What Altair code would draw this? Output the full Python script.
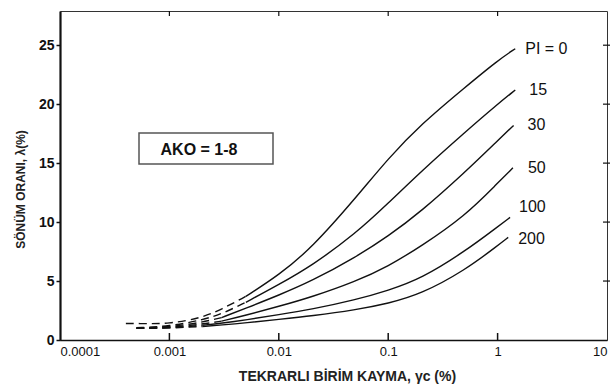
import altair as alt
import pandas as pd

# Cyclic shear strain (%) and damping ratio (%) for each plasticity index
pi_levels = ["0", "15", "30", "50", "100", "200"]

strain_pi0 = [0.0004, 0.0005, 0.001, 0.002, 0.003, 0.005, 0.01, 0.02, 0.05, 0.1, 0.2, 0.5, 1.0, 1.45]
damp_pi0 = [1.4, 1.4, 1.35, 1.9, 2.6, 3.7, 5.5, 7.8, 12.0, 15.4, 18.3, 21.4, 23.7, 24.7]

strain_pi15 = [0.0005, 0.001, 0.002, 0.003, 0.005, 0.01, 0.02, 0.05, 0.1, 0.2, 0.5, 1.0, 1.45]
damp_pi15 = [1.05, 1.15, 1.7, 2.2, 3.2, 4.7, 6.3, 9.0, 11.6, 14.3, 17.6, 20.0, 21.2]

strain_pi30 = [0.0005, 0.001, 0.002, 0.003, 0.005, 0.01, 0.02, 0.05, 0.1, 0.2, 0.5, 1.0, 1.4]
damp_pi30 = [1.0, 1.1, 1.5, 1.9, 2.7, 3.8, 5.0, 7.0, 8.8, 10.9, 14.2, 16.9, 18.2]

strain_pi50 = [0.0005, 0.001, 0.002, 0.003, 0.005, 0.01, 0.02, 0.05, 0.1, 0.2, 0.5, 1.0, 1.38]
damp_pi50 = [1.0, 1.05, 1.35, 1.6, 2.1, 2.85, 3.65, 4.95, 6.25, 7.95, 10.5, 13.3, 14.6]

strain_pi100 = [0.0005, 0.001, 0.002, 0.003, 0.005, 0.01, 0.02, 0.05, 0.1, 0.2, 0.5, 1.0, 1.3]
damp_pi100 = [1.0, 1.0, 1.25, 1.42, 1.7, 2.15, 2.6, 3.4, 4.2, 5.2, 7.5, 9.6, 10.4]

strain_pi200 = [0.0005, 0.001, 0.002, 0.003, 0.005, 0.01, 0.02, 0.05, 0.1, 0.2, 0.5, 1.0, 1.25]
damp_pi200 = [1.0, 1.0, 1.15, 1.27, 1.45, 1.75, 2.05, 2.55, 3.1, 3.9, 5.9, 8.0, 8.7]

# strain at which each curve turns from dashed (extrapolated) to solid
solid_from = [0.005, 0.005, 0.003, 0.003, 0.002, 0.002]

curve_labels = ["PI = 0", "15", "30", "50", "100", "200"]

y_ticks = [0, 5, 10, 15, 20, 25]
x_ticks = [0.0001, 0.001, 0.01, 0.1, 1, 10]
decade_marks = [0.001, 0.01, 0.1, 1]

curves = [
    (strain_pi0, damp_pi0),
    (strain_pi15, damp_pi15),
    (strain_pi30, damp_pi30),
    (strain_pi50, damp_pi50),
    (strain_pi100, damp_pi100),
    (strain_pi200, damp_pi200),
]

dashed_rows, solid_rows, end_rows = [], [], []
for pi, (xs, ys), cut in zip(pi_levels, curves, solid_from):
    for xv, yv in zip(xs, ys):
        row = {"pi": pi, "strain": xv, "damping": yv}
        if xv <= cut:
            dashed_rows.append(row)
        if xv >= cut:
            solid_rows.append(row)
    end_rows.append({"pi": pi, "strain": xs[-1], "damping": ys[-1]})

dashed_df = pd.DataFrame(dashed_rows)
solid_df = pd.DataFrame(solid_rows)
end_df = pd.DataFrame(end_rows)
end_df["label"] = curve_labels

W, H = 547, 329
INK = "#111111"

x_scale = alt.Scale(type="log", domain=[0.0001, 10])
y_scale = alt.Scale(domain=[0, 27.9], nice=False)

x_enc = alt.X(
    "strain:Q",
    scale=x_scale,
    axis=alt.Axis(
        values=x_ticks,
        format="~g",
        ticks=False,
        grid=False,
        labelFlush=True,
        labelPadding=5,
        labelFontSize=13,
        labelColor=INK,
        domainColor=INK,
        domainWidth=1.6,
        title="TEKRARLI BİRİM KAYMA,  γc (%)",
        titleFontSize=14,
        titleFontWeight="bold",
        titleColor="#222222",
        titleX=287,
        titleY=36,
        titleBaseline="middle",
    ),
)
y_enc = alt.Y(
    "damping:Q",
    scale=y_scale,
    axis=alt.Axis(
        values=y_ticks,
        grid=False,
        tickSize=4,
        tickWidth=1.5,
        tickColor=INK,
        labelPadding=2,
        labelFontSize=14,
        labelFontWeight="bold",
        labelColor=INK,
        domainColor=INK,
        domainWidth=2.2,
        title="SÖNÜM ORANI, λ(%)",
        titleFontSize=12,
        titleFontWeight="bold",
        titleColor="#222222",
        titleX=-40,
        titleY=178,
        titleAngle=-90,
        titleAlign="center",
        titleBaseline="middle",
    ),
)

dashed = alt.Chart(dashed_df).mark_line(
    color=INK, strokeWidth=1.4, strokeDash=[8, 5], interpolate="basis"
).encode(x=x_enc, y=y_enc, detail="pi:N")

solid = alt.Chart(solid_df).mark_line(
    color=INK, strokeWidth=1.4, interpolate="basis"
).encode(x="strain:Q", y="damping:Q", detail="pi:N")

# curve labels next to the end of each curve
label_offsets = {"0": (10, 0), "15": (14, 0), "30": (14, 0), "50": (15, 0), "100": (9, -10), "200": (10, 2)}
label_layers = []
for pi, (ddx, ddy) in label_offsets.items():
    label_layers.append(
        alt.Chart(end_df)
        .transform_filter(alt.datum.pi == pi)
        .mark_text(align="left", baseline="middle", dx=ddx, dy=ddy, fontSize=16, color=INK)
        .encode(x="strain:Q", y="damping:Q", text="label:N")
    )

# annotation box
box = alt.Chart(pd.DataFrame({"k": [0]})).mark_rect(
    fill="white", stroke="#555555", strokeWidth=1.5
).encode(x=alt.value(79), x2=alt.value(213), y=alt.value(122), y2=alt.value(153))
box_text = alt.Chart(pd.DataFrame({"t": ["AKO = 1-8"]})).mark_text(
    fontSize=16, fontWeight="bold", color=INK, align="center", baseline="middle"
).encode(x=alt.value(139), y=alt.value(139), text="t:N")

# inward decade ticks on bottom and top frame, outward ticks on the right frame
tick_df = pd.DataFrame({"strain": decade_marks})
bottom_ticks = alt.Chart(tick_df).mark_rule(color=INK, strokeWidth=1.5).encode(
    x="strain:Q", y=alt.value(H), y2=alt.value(H - 7)
)
top_ticks = alt.Chart(tick_df).mark_rule(color=INK, strokeWidth=1.2).encode(
    x="strain:Q", y=alt.value(0), y2=alt.value(5)
)
right_df = pd.DataFrame({"damping": y_ticks[1:]})
right_ticks = alt.Chart(right_df).mark_rule(color=INK, strokeWidth=1.2).encode(
    y="damping:Q", x=alt.value(W - 4), x2=alt.value(W + 3)
)

chart = (
    alt.layer(dashed, solid, *label_layers, box, box_text, bottom_ticks, top_ticks, right_ticks)
    .properties(
        width=W,
        height=H,
        autosize=alt.AutoSizeParams(type="none"),
        padding={"left": 60, "top": 11, "right": 3, "bottom": 47},
        background="white",
    )
    .configure_view(stroke="#333333", strokeWidth=1)
    .configure_axis(labelFont="Liberation Sans", titleFont="Liberation Sans")
    .configure_text(font="Liberation Sans")
)

chart.save("out.html", embed_options={"renderer": "svg", "actions": False})
